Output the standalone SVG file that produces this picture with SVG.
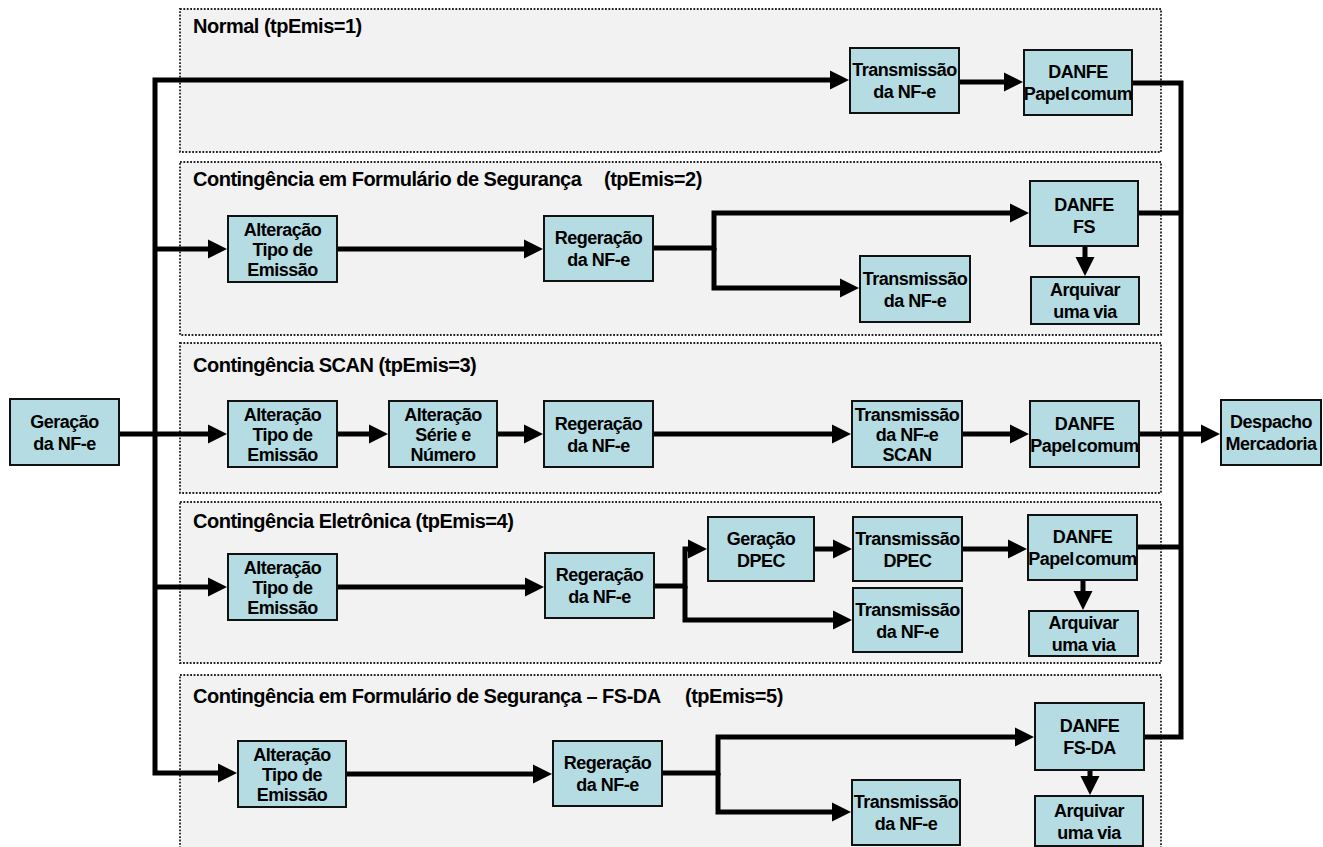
<svg xmlns="http://www.w3.org/2000/svg" width="1323" height="847" viewBox="0 0 1323 847">
<style>
.panel{fill:#f2f2f2;stroke:#222;stroke-width:1.8;stroke-dasharray:1.8 1.6}
.title{font-family:"Liberation Sans",Arial,sans-serif;font-weight:bold;font-size:20px;letter-spacing:-0.5px;fill:#000}
.box rect{fill:#b5dce2;stroke:#111;stroke-width:2}
.box text{font-family:"Liberation Sans",Arial,sans-serif;font-weight:bold;font-size:18px;letter-spacing:-0.5px;text-anchor:middle;fill:#000}
.pc{word-spacing:-3px}
#connectors path{fill:none;stroke:#000;stroke-width:5;stroke-linejoin:miter}
</style>
<defs>
<marker id="ah" markerUnits="userSpaceOnUse" markerWidth="20" markerHeight="22" viewBox="0 -11 20 22" refX="1" refY="0" orient="auto">
<path d="M0,-9.5 L19,0 L0,9.5 z" fill="#000"/>
</marker>
</defs>
<rect width="1323" height="847" fill="#fff"/>
<g id="panels">
<rect class="panel" x="180" y="9" width="981" height="143"/>
<rect class="panel" x="180" y="162" width="981" height="173"/>
<rect class="panel" x="180" y="343" width="981" height="150"/>
<rect class="panel" x="180" y="502" width="981" height="161"/>
<rect class="panel" x="180" y="675" width="981" height="180"/>
<text class="title" x="193" y="33">Normal (tpEmis=1)</text>
<text class="title" x="193" y="186">Contingência em Formulário de Segurança<tspan x="604">(tpEmis=2)</tspan></text>
<text class="title" x="193" y="372">Contingência SCAN (tpEmis=3)</text>
<text class="title" x="193" y="528">Contingência Eletrônica (tpEmis=4)</text>
<text class="title" x="193" y="703">Contingência em Formulário de Segurança – FS-DA<tspan x="685">(tpEmis=5)</tspan></text>
</g>
<g id="connectors">
<path d="M155,252 V80 H831" marker-end="url(#ah)"/>
<path d="M155,252 V773 H219" marker-end="url(#ah)"/>
<path d="M155,249 H209" marker-end="url(#ah)"/>
<path d="M119,434 H209" marker-end="url(#ah)"/>
<path d="M155,587 H209" marker-end="url(#ah)"/>
<path d="M959,82 H1005" marker-end="url(#ah)"/>
<path d="M1132,83 H1181 V737 H1144"/>
<path d="M1138,213 H1181"/>
<path d="M1137,547 H1181"/>
<path d="M1139,434 H1202" marker-end="url(#ah)"/>
<path d="M337,249 H525" marker-end="url(#ah)"/>
<path d="M653,248 H714 V213 H1011" marker-end="url(#ah)"/>
<path d="M714,248 V288 H841" marker-end="url(#ah)"/>
<path d="M1085,246 V258" marker-end="url(#ah)"/>
<path d="M337,434 H370" marker-end="url(#ah)"/>
<path d="M497,434 H525" marker-end="url(#ah)"/>
<path d="M653,434 H833" marker-end="url(#ah)"/>
<path d="M962,434 H1011" marker-end="url(#ah)"/>
<path d="M337,587 H526" marker-end="url(#ah)"/>
<path d="M654,586 H685 V549 H689" marker-end="url(#ah)"/>
<path d="M685,586 V620 H834" marker-end="url(#ah)"/>
<path d="M814,549 H834" marker-end="url(#ah)"/>
<path d="M962,549 H1009" marker-end="url(#ah)"/>
<path d="M1083,580 V592" marker-end="url(#ah)"/>
<path d="M346,774 H534" marker-end="url(#ah)"/>
<path d="M662,773 H718 V737 H1016" marker-end="url(#ah)"/>
<path d="M718,773 V812 H833" marker-end="url(#ah)"/>
<path d="M1090,770 V777" marker-end="url(#ah)"/>
</g>
<g id="geracao" class="box"><rect x="10" y="399" width="109" height="66"/><text x="64.5"><tspan x="64.5" y="427.5">Geração</tspan><tspan x="64.5" y="449.5">da NF-e</tspan></text></g>
<g id="despacho" class="box"><rect x="1221" y="400" width="100" height="65"/><text><tspan x="1271" y="428">Despacho</tspan><tspan x="1271" y="450">Mercadoria</tspan></text></g>
<g id="p1-transmissao" class="box"><rect x="850" y="48" width="109" height="65"/><text><tspan x="904.5" y="76">Transmissão</tspan><tspan x="904.5" y="98">da NF-e</tspan></text></g>
<g id="p1-danfe" class="box"><rect x="1024" y="50" width="108" height="65"/><text><tspan x="1078" y="78">DANFE</tspan><tspan class="pc" x="1078" y="100">Papel comum</tspan></text></g>
<g id="p2-alteracao" class="box"><rect x="228" y="216" width="109" height="66"/><text><tspan x="282.5" y="235.5">Alteração</tspan><tspan x="282.5" y="255.5">Tipo de</tspan><tspan x="282.5" y="275.5">Emissão</tspan></text></g>
<g id="p2-regeracao" class="box"><rect x="544" y="216" width="109" height="65"/><text><tspan x="598.5" y="244">Regeração</tspan><tspan x="598.5" y="266">da NF-e</tspan></text></g>
<g id="p2-danfe" class="box"><rect x="1030" y="181" width="108" height="65"/><text><tspan x="1084" y="211">DANFE</tspan><tspan x="1084" y="233">FS</tspan></text></g>
<g id="p2-transmissao" class="box"><rect x="860" y="256" width="110" height="66"/><text><tspan x="915" y="284.5">Transmissão</tspan><tspan x="915" y="306.5">da NF-e</tspan></text></g>
<g id="p2-arquivar" class="box"><rect x="1031" y="277" width="108" height="47"/><text><tspan x="1085" y="296">Arquivar</tspan><tspan x="1085" y="318">uma via</tspan></text></g>
<g id="p3-alteracao" class="box"><rect x="228" y="401" width="109" height="66"/><text><tspan x="282.5" y="420.5">Alteração</tspan><tspan x="282.5" y="440.5">Tipo de</tspan><tspan x="282.5" y="460.5">Emissão</tspan></text></g>
<g id="p3-serie" class="box"><rect x="389" y="401" width="108" height="66"/><text><tspan x="443" y="420.5">Alteração</tspan><tspan x="443" y="440.5">Série e</tspan><tspan x="443" y="460.5">Número</tspan></text></g>
<g id="p3-regeracao" class="box"><rect x="544" y="401" width="109" height="66"/><text><tspan x="598.5" y="429.5">Regeração</tspan><tspan x="598.5" y="451.5">da NF-e</tspan></text></g>
<g id="p3-transmissao" class="box"><rect x="852" y="401" width="110" height="66"/><text><tspan x="907" y="420.5">Transmissão</tspan><tspan x="907" y="440.5">da NF-e</tspan><tspan x="907" y="460.5">SCAN</tspan></text></g>
<g id="p3-danfe" class="box"><rect x="1030" y="401" width="109" height="66"/><text><tspan x="1084.5" y="429.5">DANFE</tspan><tspan class="pc" x="1084.5" y="451.5">Papel comum</tspan></text></g>
<g id="p4-alteracao" class="box"><rect x="228" y="554" width="109" height="66"/><text><tspan x="282.5" y="573.5">Alteração</tspan><tspan x="282.5" y="593.5">Tipo de</tspan><tspan x="282.5" y="613.5">Emissão</tspan></text></g>
<g id="p4-regeracao" class="box"><rect x="545" y="553" width="109" height="65"/><text><tspan x="599.5" y="581">Regeração</tspan><tspan x="599.5" y="603">da NF-e</tspan></text></g>
<g id="p4-geracao-dpec" class="box"><rect x="708" y="517" width="106" height="64"/><text><tspan x="761" y="544.5">Geração</tspan><tspan x="761" y="566.5">DPEC</tspan></text></g>
<g id="p4-transmissao-dpec" class="box"><rect x="853" y="517" width="109" height="64"/><text><tspan x="907.5" y="544.5">Transmissão</tspan><tspan x="907.5" y="566.5">DPEC</tspan></text></g>
<g id="p4-danfe" class="box"><rect x="1028" y="515" width="109" height="65"/><text><tspan x="1082.5" y="543">DANFE</tspan><tspan class="pc" x="1082.5" y="565">Papel comum</tspan></text></g>
<g id="p4-transmissao" class="box"><rect x="853" y="588" width="109" height="64"/><text><tspan x="907.5" y="615.5">Transmissão</tspan><tspan x="907.5" y="637.5">da NF-e</tspan></text></g>
<g id="p4-arquivar" class="box"><rect x="1029" y="611" width="109" height="45"/><text><tspan x="1083.5" y="629">Arquivar</tspan><tspan x="1083.5" y="651">uma via</tspan></text></g>
<g id="p5-alteracao" class="box"><rect x="238" y="741" width="108" height="66"/><text><tspan x="292" y="760.5">Alteração</tspan><tspan x="292" y="780.5">Tipo de</tspan><tspan x="292" y="800.5">Emissão</tspan></text></g>
<g id="p5-regeracao" class="box"><rect x="553" y="741" width="109" height="65"/><text><tspan x="607.5" y="769">Regeração</tspan><tspan x="607.5" y="791">da NF-e</tspan></text></g>
<g id="p5-danfe" class="box"><rect x="1035" y="703" width="109" height="67"/><text><tspan x="1089.5" y="732">DANFE</tspan><tspan x="1089.5" y="754">FS-DA</tspan></text></g>
<g id="p5-transmissao" class="box"><rect x="852" y="780" width="108" height="65"/><text><tspan x="906" y="808">Transmissão</tspan><tspan x="906" y="830">da NF-e</tspan></text></g>
<g id="p5-arquivar" class="box"><rect x="1035" y="796" width="108" height="50"/><text><tspan x="1089" y="816.5">Arquivar</tspan><tspan x="1089" y="838.5">uma via</tspan></text></g>
</svg>
